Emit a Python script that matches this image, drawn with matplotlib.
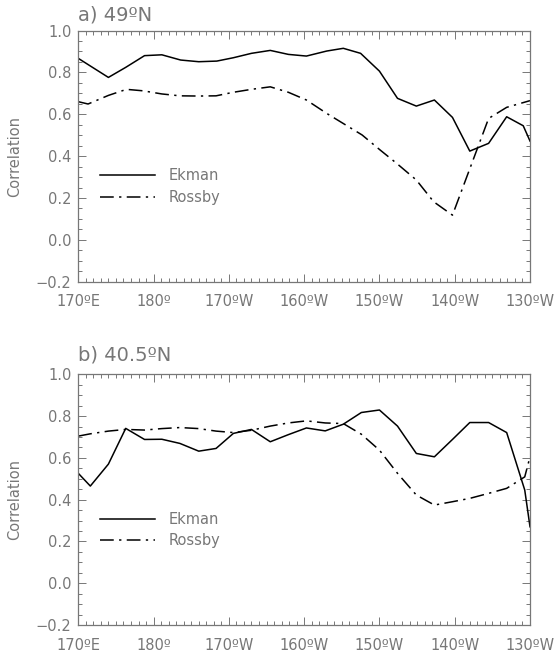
import matplotlib.pyplot as plt
import numpy as np
from matplotlib.ticker import MultipleLocator

# longitudine in gradi est (170E ... 130W = 230)
lon_ek_a = [170.0, 174.0, 176.3, 178.8, 181.1, 183.6, 186.0, 188.4, 190.6, 193.0,
            195.5, 197.9, 200.3, 203.0, 205.2, 207.5, 210.0, 212.4, 214.9, 217.3,
            219.7, 222.0, 224.5, 226.9, 229.1, 230.0]
ekman_a = [0.867, 0.776, 0.824, 0.880, 0.884, 0.859, 0.851, 0.854, 0.870, 0.891,
           0.905, 0.886, 0.878, 0.902, 0.915, 0.891, 0.806, 0.676, 0.639, 0.668,
           0.585, 0.424, 0.461, 0.588, 0.545, 0.472]

lon_ro_a = [170.0, 171.3, 174.0, 176.4, 178.6, 181.1, 183.5, 186.0, 188.3, 190.6,
            193.0, 195.5, 197.9, 200.3, 203.0, 207.7, 210.1, 212.3, 214.9, 217.2,
            219.7, 224.5, 226.9, 230.0]
rossby_a = [0.660, 0.649, 0.690, 0.719, 0.712, 0.697, 0.688, 0.687, 0.688, 0.705,
            0.719, 0.731, 0.705, 0.668, 0.604, 0.501, 0.429, 0.365, 0.286, 0.182,
            0.118, 0.580, 0.633, 0.665]

lon_b = [170.0, 171.6, 174.0, 176.3, 178.8, 181.1, 183.5, 186.0, 188.3, 190.6,
         193.0, 195.5, 197.9, 200.3, 202.8, 205.2, 207.6, 210.0, 212.4, 214.9,
         217.3, 219.7, 222.0, 224.5, 226.9, 229.3, 230.0]
ekman_b = [0.526, 0.465, 0.570, 0.741, 0.688, 0.689, 0.669, 0.632, 0.645, 0.717,
           0.736, 0.677, 0.711, 0.743, 0.729, 0.761, 0.817, 0.829, 0.752, 0.621,
           0.605, 0.688, 0.769, 0.769, 0.721, 0.446, 0.270]
rossby_b = [0.704, 0.715, 0.728, 0.736, 0.733, 0.740, 0.745, 0.740, 0.728, 0.721,
            0.732, 0.752, 0.767, 0.777, 0.767, 0.764, 0.713, 0.637, 0.526, 0.422,
            0.374, 0.390, 0.406, 0.430, 0.454, 0.509, 0.605]

xtick_pos = [170, 180, 190, 200, 210, 220, 230]
xtick_lab = ['170ºE', '180º', '170ºW', '160ºW', '150ºW', '140ºW', '130ºW']
ytick_pos = [-0.2, 0.0, 0.2, 0.4, 0.6, 0.8, 1.0]

GRIGIO = '#777777'
TRATTO_PUNTO = (0, (9, 3.5, 1.5, 3.5))


def pannello(ax, titolo, dy_titolo, lon_e, ek, lon_r, ro):
    ax.plot(lon_e, ek, color='black', lw=1.1, label='Ekman')
    ax.plot(lon_r, ro, color='black', lw=1.1, linestyle=TRATTO_PUNTO, label='Rossby')

    ax.set_xlim(170, 230)
    ax.set_ylim(-0.2, 1.0)
    ax.set_xticks(xtick_pos)
    ax.set_xticklabels(xtick_lab)
    ax.set_yticks(ytick_pos)
    ax.set_yticklabels([f'{v:.1f}'.replace('-', '\u2212') for v in ytick_pos])
    ax.xaxis.set_minor_locator(MultipleLocator(1))
    ax.yaxis.set_minor_locator(MultipleLocator(0.05))

    ax.tick_params(which='both', direction='in', top=True, right=True,
                   color=GRIGIO, labelcolor=GRIGIO, labelsize=10.5, width=0.7)
    ax.tick_params(which='major', length=6)
    ax.tick_params(which='minor', length=3)
    ax.tick_params(axis='x', pad=9)
    ax.tick_params(axis='y', pad=5)
    for s in ax.spines.values():
        s.set_color(GRIGIO)
        s.set_linewidth(0.9)

    ax.set_ylabel('Correlation', color=GRIGIO, fontsize=10.5)
    ax.yaxis.set_label_coords(-0.125, 0.5)

    ax.text(0.0, 1.0 + dy_titolo, titolo, transform=ax.transAxes,
            ha='left', va='center', color=GRIGIO, fontsize=14)

    leg = ax.legend(loc='upper left', bbox_to_anchor=(0.048, 0.452), frameon=False,
                    handlelength=3.8, handletextpad=0.9, labelspacing=0.45,
                    borderpad=0, borderaxespad=0, fontsize=10.5)
    for t in leg.get_texts():
        t.set_color(GRIGIO)


fig = plt.figure(figsize=(5.54, 6.55), dpi=100)
ax1 = fig.add_axes([0.1413, 0.5699, 0.8154, 0.3835])
ax2 = fig.add_axes([0.1413, 0.0458, 0.8154, 0.3828])

pannello(ax1, 'a) 49ºN', 0.062, lon_ek_a, ekman_a, lon_ro_a, rossby_a)
pannello(ax2, 'b) 40.5ºN', 0.076, lon_b, ekman_b, lon_b, rossby_b)

fig.savefig('out.png', dpi=100)
